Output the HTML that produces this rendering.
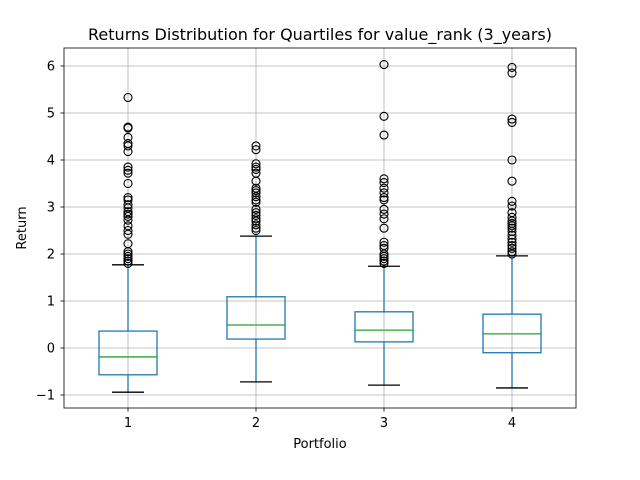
<!DOCTYPE html>
<html><head><meta charset="utf-8"><style>body{margin:0;background:#fff}svg{display:block;font-family:"DejaVu Sans","Liberation Sans",sans-serif}</style></head>
<body>
<svg id="c" width="640" height="480"></svg>
<script>
const categories=["1","2","3","4"];
const q1=[-0.57,0.19,0.13,-0.10];
const medians=[-0.19,0.49,0.38,0.30];
const q3=[0.36,1.09,0.77,0.72];
const whiskerLow=[-0.94,-0.72,-0.79,-0.85];
const whiskerHigh=[1.77,2.38,1.74,1.96];
const outliers1=[5.33,4.7,4.68,4.48,4.35,4.3,4.18,3.85,3.78,3.72,3.5,3.2,3.15,3.05,2.98,2.9,2.85,2.8,2.72,2.6,2.5,2.42,2.22,2.05,2.0,1.95,1.9,1.85,1.8];
const outliers2=[4.3,4.22,3.92,3.85,3.8,3.72,3.55,3.4,3.35,3.3,3.22,3.15,3.1,2.95,2.88,2.82,2.75,2.7,2.62,2.55,2.5];
const outliers3=[6.03,4.93,4.53,3.6,3.52,3.4,3.3,3.2,3.15,2.95,2.85,2.75,2.55,2.25,2.18,2.12,2.0,1.95,1.9,1.85,1.8];
const outliers4=[5.97,5.85,4.87,4.8,4.0,3.55,3.12,3.02,2.88,2.78,2.7,2.65,2.6,2.55,2.48,2.4,2.32,2.25,2.18,2.12,2.05,2.0];
const yTicks=[-1,0,1,2,3,4,5,6];
const outliers=[outliers1,outliers2,outliers3,outliers4];
const L=64,R=576,T=48,B=408;
const x=i=>L+(i+0.5)*(R-L)/4;
const y=v=>348-v*47;
const svg=document.getElementById('c');
const NS='http://www.w3.org/2000/svg';
function mk(t,a,p){const e=document.createElementNS(NS,t);for(const k in a)e.setAttribute(k,a[k]);(p||svg).appendChild(e);return e;}
yTicks.forEach(v=>{const g=mk('line',{x1:L,x2:R,y1:y(v),y2:y(v),stroke:'#b0b0b0','stroke-width':0.8});


const t=mk('text',{x:L-9,y:y(v)+4.5,'text-anchor':'end','font-size':13});t.textContent=v<0?'\u2212'+(-v):v;


mk('line',{x1:L-3.5,x2:L,y1:y(v),y2:y(v),stroke:'#000','stroke-width':0.8});});
categories.forEach((c,i)=>{const g=mk('line',{x1:x(i),x2:x(i),y1:T,y2:B,stroke:'#b0b0b0','stroke-width':0.8});


mk('line',{x1:x(i),x2:x(i),y1:B,y2:B+3.5,stroke:'#000','stroke-width':0.8});
const t=mk('text',{x:x(i),y:B+19,'text-anchor':'middle','font-size':13});t.textContent=c;

});
categories.forEach((c,i)=>{const g=mk('g',{});


const cx=x(i),hw=29;
mk('line',{x1:cx,x2:cx,y1:y(q1[i]),y2:y(whiskerLow[i]),stroke:'#1f77b4','stroke-width':1.3},g);
mk('line',{x1:cx,x2:cx,y1:y(q3[i]),y2:y(whiskerHigh[i]),stroke:'#1f77b4','stroke-width':1.3},g);
mk('line',{x1:cx-16,x2:cx+16,y1:y(whiskerLow[i]),y2:y(whiskerLow[i]),stroke:'#000','stroke-width':1.3},g);
mk('line',{x1:cx-16,x2:cx+16,y1:y(whiskerHigh[i]),y2:y(whiskerHigh[i]),stroke:'#000','stroke-width':1.3},g);
mk('rect',{x:cx-hw,y:y(q3[i]),width:2*hw,height:y(q1[i])-y(q3[i]),fill:'none',stroke:'#1f77b4','stroke-width':1.3},g);
mk('line',{x1:cx-hw,x2:cx+hw,y1:y(medians[i]),y2:y(medians[i]),stroke:'#2ca02c','stroke-width':1.3},g);
outliers[i].forEach(v=>{const o=mk('circle',{cx:cx,cy:y(v),r:4,fill:'none',stroke:'#000','stroke-width':1.1},g);

});
});
mk('rect',{x:L,y:T,width:R-L,height:B-T,fill:'none',stroke:'#000','stroke-width':0.8});
let t=mk('text',{x:320,y:40,'text-anchor':'middle','font-size':16});t.textContent='Returns Distribution for Quartiles for value_rank (3_years)';


t=mk('text',{x:320,y:448,'text-anchor':'middle','font-size':13});t.textContent='Portfolio';


t=mk('text',{x:26,y:228,'text-anchor':'middle','font-size':13,transform:'rotate(-90 26 228)'});t.textContent='Return';


</script>
</body></html>
